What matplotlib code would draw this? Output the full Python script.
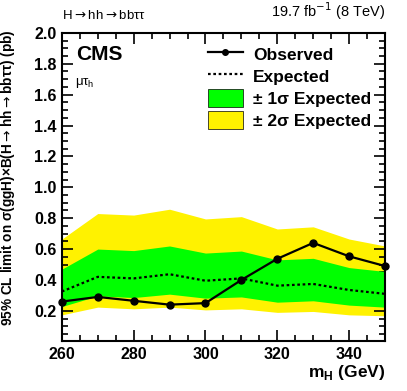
import matplotlib
matplotlib.use("Agg")
import matplotlib.pyplot as plt
from matplotlib.ticker import MultipleLocator
from matplotlib.lines import Line2D
from matplotlib.patches import Patch

mass = [260, 270, 280, 290, 300, 310, 320, 330, 340, 350]
observed = [0.26, 0.29, 0.265, 0.24, 0.25, 0.40, 0.537, 0.64, 0.553, 0.49]
expected = [0.325, 0.42, 0.41, 0.437, 0.395, 0.41, 0.363, 0.374, 0.335, 0.31]
exp_p1 = [0.47, 0.60, 0.59, 0.62, 0.574, 0.587, 0.53, 0.54, 0.48, 0.455]
exp_m1 = [0.228, 0.297, 0.286, 0.308, 0.282, 0.29, 0.256, 0.265, 0.237, 0.224]
exp_p2 = [0.665, 0.83, 0.82, 0.858, 0.795, 0.81, 0.73, 0.744, 0.665, 0.62]
exp_m2 = [0.174, 0.224, 0.213, 0.224, 0.206, 0.213, 0.19, 0.196, 0.174, 0.168]

plt.rcParams['font.family'] = ['Liberation Sans', 'DejaVu Sans']

fig = plt.figure(figsize=(4.07, 3.91), dpi=100)
ax = fig.add_axes([0.152, 0.128, 0.794, 0.788])

yellow = '#FFF200'
green = '#00FF00'
ax.fill_between(mass, exp_m2, exp_p2, color=yellow, lw=0, zorder=1)
ax.fill_between(mass, exp_m1, exp_p1, color=green, lw=0, zorder=2)
ax.plot(mass, expected, color='black', ls=(0, (1.2, 1.2)), lw=1.6, zorder=3)
ax.plot(mass, observed, color='black', lw=1.6, marker='o', ms=5, zorder=4, clip_on=False)

ax.set_xlim(260, 350)
ax.set_ylim(0.005, 2.0)
ax.xaxis.set_major_locator(MultipleLocator(20))
ax.xaxis.set_minor_locator(MultipleLocator(5))
ax.yaxis.set_minor_locator(MultipleLocator(0.05))
ax.set_yticks([0.2, 0.4, 0.6, 0.8, 1.0, 1.2, 1.4, 1.6, 1.8, 2.0])
ax.tick_params(which='both', direction='in', top=True, right=True, width=1.2)
ax.tick_params(which='major', length=8, labelsize=11.5, pad=4)
ax.tick_params(which='minor', length=4)
for lab in ax.get_xticklabels() + ax.get_yticklabels():
    lab.set_fontweight('bold')
for s in ax.spines.values():
    s.set_linewidth(1.5)

ax.set_xlabel(r'm$_\mathregular{H}$ (GeV)', fontsize=12.5, fontweight='bold', loc='right', labelpad=1)
ax.set_ylabel(r'95% CL limit on σ(ggH)×B(H$\rightarrow$hh$\rightarrow$bbττ) (pb)',
              fontsize=9.8, fontweight='bold', loc='top')
ax.yaxis.set_label_coords(-0.14, 1.01)

fig.text(0.152, 0.945, r'H$\rightarrow$hh$\rightarrow$bbττ', fontsize=9.5, ha='left', va='bottom')
fig.text(0.946, 0.945, r'19.7 fb$^{-1}$ (8 TeV)', fontsize=10.5, ha='right', va='bottom')
ax.text(0.045, 0.929, 'CMS', transform=ax.transAxes, fontsize=15, fontweight='bold', ha='left', va='center')
ax.text(0.04, 0.838, r'μτ$_\mathregular{h}$', transform=ax.transAxes, fontsize=9.5, ha='left', va='center')

handles = [
    Line2D([], [], color='black', lw=1.6, marker='o', ms=4),
    Line2D([], [], color='black', lw=1.6, ls=(0, (1.2, 1.2))),
    Patch(facecolor=green, edgecolor='black', lw=0.5),
    Patch(facecolor=yellow, edgecolor='black', lw=0.5),
]
labels = ['Observed', 'Expected', '± 1σ Expected', '± 2σ Expected']
leg = ax.legend(handles, labels, loc='upper left', bbox_to_anchor=(0.42, 0.995), frameon=False,
                prop={'size': 12.5, 'weight': 'bold'}, handlelength=2.0, handleheight=1.2,
                labelspacing=0.25, handletextpad=0.6, borderaxespad=0.2)

fig.savefig('out.png', dpi=100)
